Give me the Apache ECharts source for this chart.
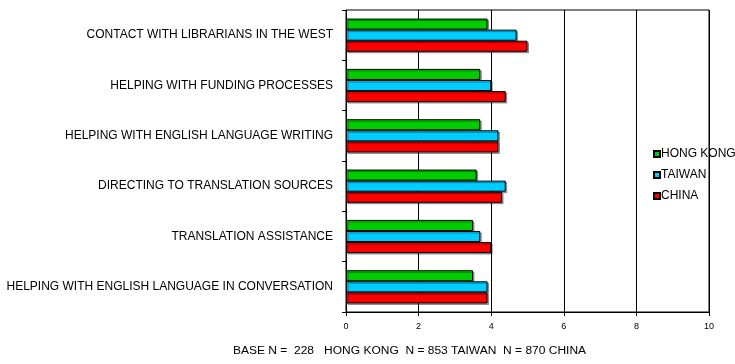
<!DOCTYPE html>
<html>
<head>
<meta charset="utf-8">
<script src="https://cdn.jsdelivr.net/npm/echarts@6/dist/echarts.min.js"></script>
<style>
  html, body { margin: 0; padding: 0; background: #fff; }
  #chart { width: 735px; height: 364px; }
</style>
</head>
<body>
<div id="chart"></div>
<script>
// Survey items, listed top to bottom
const categories = [
  'CONTACT WITH LIBRARIANS IN THE WEST',
  'HELPING WITH FUNDING PROCESSES',
  'HELPING WITH ENGLISH LANGUAGE WRITING',
  'DIRECTING TO TRANSLATION SOURCES',
  'TRANSLATION ASSISTANCE',
  'HELPING WITH ENGLISH LANGUAGE IN CONVERSATION'
];
// Mean ratings per region
const hongKong = [3.9, 3.7, 3.7, 3.6, 3.5, 3.5];
const taiwan   = [4.7, 4.0, 4.2, 4.4, 3.7, 3.9];
const china    = [5.0, 4.4, 4.2, 4.3, 4.0, 3.9];
const seriesNames = ['HONG KONG', 'TAIWAN', 'CHINA'];
const seriesColors = ['#00CC00', '#00CCFF', '#FF0000'];
const xTicks = [0, 2, 4, 6, 8, 10];
const footer = 'BASE N =  228   HONG KONG  N = 853 TAIWAN  N = 870 CHINA';

const FONT = 'Liberation Sans, Arial, sans-serif';
const values = [hongKong, taiwan, china];

const chart = echarts.init(document.getElementById('chart'), null, { renderer: 'canvas' });

const series = seriesNames.map((name, i) => ({
  name,
  type: 'bar',
  data: values[i],
  barCategoryGap: '34%',
  barGap: '0%',
  itemStyle: {
    color: seriesColors[i],
    borderColor: '#000',
    borderWidth: 1,
    shadowColor: 'rgba(0,0,0,0.35)',
    shadowOffsetX: 1.5,
    shadowOffsetY: 1.5,
    shadowBlur: 0
  },
  emphasis: { disabled: true },
  animation: false
}));

chart.setOption({
  animation: false,
  textStyle: { fontFamily: FONT },
  grid: {
    left: 346, top: 10, right: 26, bottom: 52,
    show: true, borderColor: '#000', borderWidth: 1, backgroundColor: 'transparent'
  },
  // sample sizes beneath the axis, set slightly wide
  graphic: [{
    type: 'text',
    left: 233, top: 346,
    scaleX: 1.2,
    style: { text: footer, font: '10px ' + FONT, fill: '#000' },
    silent: true
  }],
  legend: {
    orient: 'vertical',
    left: 653, top: 148,
    padding: 0,
    itemWidth: 6, itemHeight: 6, itemGap: 9,
    icon: 'rect',
    data: seriesNames,
    selectedMode: false,
    textStyle: { fontFamily: FONT, fontSize: 12, color: '#000', padding: [0, 0, 0, -4] }
  },
  xAxis: {
    type: 'value',
    min: 0, max: 10, interval: 2,
    axisLine: { show: true, lineStyle: { color: '#000', width: 1 } },
    axisTick: { show: true, length: 4, lineStyle: { color: '#000' } },
    splitLine: { show: true, lineStyle: { color: '#000', width: 1 } },
    axisLabel: {
      fontFamily: FONT, fontSize: 9, color: '#000', margin: 10,
      formatter: v => xTicks.includes(v) ? String(v) : ''
    }
  },
  yAxis: {
    type: 'category',
    inverse: true,
    data: categories,
    axisLine: { show: true, lineStyle: { color: '#000', width: 1 } },
    axisTick: { show: true, length: 4, lineStyle: { color: '#000' } },
    axisLabel: { fontFamily: FONT, fontSize: 12, color: '#000', margin: 13 }
  },
  series
});
</script>
</body>
</html>
